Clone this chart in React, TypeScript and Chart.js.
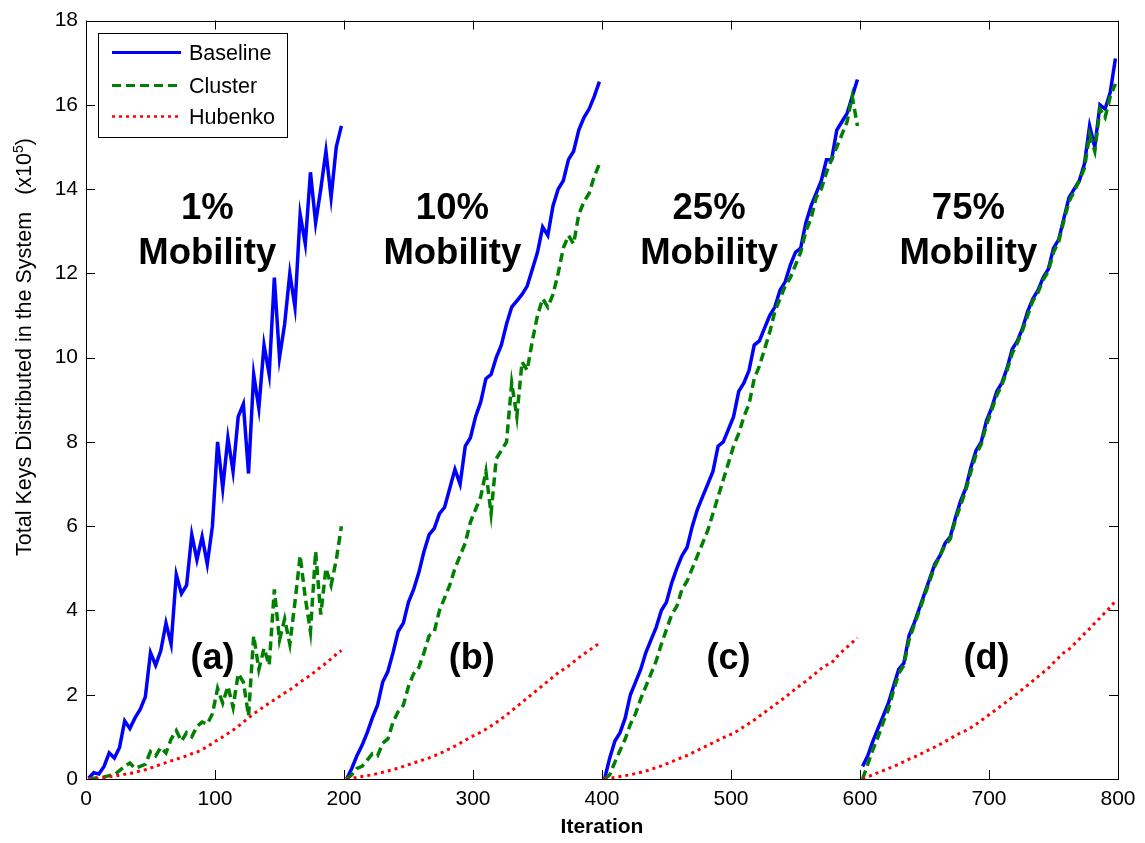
import React, { useEffect, useRef } from "react";
import { Chart, registerables } from "chart.js";

Chart.register(...registerables);

// ---- data ----
const SEGMENT_STARTS = [0, 200, 400, 600];
const ITER_OFFSETS = [2, 6, 10, 14, 18, 22, 26, 30, 34, 38, 42, 46, 50, 54, 58, 62, 66, 70, 74, 78, 82, 86, 90, 94, 98, 102, 106, 110, 114, 118, 122, 126, 130, 134, 138, 142, 146, 150, 154, 158, 162, 166, 170, 174, 178, 182, 186, 190, 194, 198];
const X_TICKS = [0, 100, 200, 300, 400, 500, 600, 700, 800];
const Y_TICKS = [0, 2, 4, 6, 8, 10, 12, 14, 16, 18];
const SERIES_NAMES = ["Baseline", "Cluster", "Hubenko"];
const MOBILITY_LABELS = ["1%", "10%", "25%", "75%"];
const PANEL_LABELS = ["(a)", "(b)", "(c)", "(d)"];

const BASELINE_A = [0.02, 0.15, 0.12, 0.3, 0.62, 0.5, 0.75, 1.38, 1.2, 1.45, 1.65, 1.95, 3.0, 2.7, 3.05, 3.7, 3.2, 4.85, 4.4, 4.6, 5.8, 5.2, 5.75, 5.1, 6.0, 8.0, 6.9, 8.1, 7.3, 8.6, 8.9, 7.25, 9.6, 8.8, 10.3, 9.6, 11.9, 10.0, 10.8, 12.0, 11.2, 13.4, 12.7, 14.4, 13.2, 14.0, 14.9, 13.8, 15.0, 15.5];
const BASELINE_B = [0.0, 0.25, 0.55, 0.8, 1.1, 1.45, 1.75, 2.3, 2.55, 3.0, 3.5, 3.7, 4.2, 4.5, 4.9, 5.4, 5.8, 5.95, 6.3, 6.45, 6.9, 7.35, 7.0, 7.9, 8.1, 8.6, 8.95, 9.5, 9.6, 10.0, 10.3, 10.8, 11.2, 11.35, 11.5, 11.7, 12.1, 12.5, 13.1, 12.9, 13.6, 14.0, 14.2, 14.7, 14.9, 15.4, 15.7, 15.9, 16.2, 16.55];
const BASELINE_C = [0.0, 0.5, 0.9, 1.1, 1.45, 2.0, 2.3, 2.6, 3.0, 3.3, 3.6, 4.0, 4.2, 4.65, 5.0, 5.3, 5.5, 6.0, 6.4, 6.7, 7.0, 7.3, 7.9, 8.0, 8.3, 8.6, 9.2, 9.4, 9.7, 10.3, 10.4, 10.7, 11.0, 11.2, 11.6, 11.8, 12.2, 12.5, 12.6, 13.2, 13.6, 13.9, 14.2, 14.7, 14.7, 15.4, 15.6, 15.8, 16.2, 16.6];
const BASELINE_D = [0.3, 0.55, 0.9, 1.2, 1.5, 1.8, 2.2, 2.6, 2.75, 3.4, 3.7, 4.05, 4.4, 4.75, 5.1, 5.3, 5.6, 5.75, 6.2, 6.6, 6.9, 7.4, 7.8, 8.0, 8.5, 8.8, 9.2, 9.4, 9.75, 10.2, 10.4, 10.7, 11.1, 11.4, 11.6, 11.9, 12.1, 12.6, 12.8, 13.3, 13.8, 14.0, 14.2, 14.6, 15.5, 15.0, 16.0, 15.9, 16.3, 17.1];

const CLUSTER_A = [0.0, 0.02, 0.03, 0.05, 0.08, 0.1, 0.2, 0.3, 0.38, 0.25, 0.3, 0.35, 0.65, 0.55, 0.75, 0.62, 0.95, 1.15, 0.9, 1.1, 1.0, 1.25, 1.35, 1.3, 1.55, 2.15, 1.8, 2.2, 1.7, 2.5, 2.3, 1.5, 3.4, 2.6, 3.1, 2.7, 4.5, 3.3, 3.8, 3.2, 4.2, 5.3, 4.3, 3.5, 5.4, 3.9, 5.0, 4.6, 5.2, 6.0];
const CLUSTER_B = [0.0, 0.1, 0.25, 0.3, 0.45, 0.6, 0.55, 0.85, 0.95, 1.35, 1.6, 1.75, 2.2, 2.5, 2.65, 3.0, 3.4, 3.5, 4.0, 4.3, 4.6, 5.0, 5.3, 5.6, 6.1, 6.4, 6.7, 7.3, 6.3, 7.6, 7.8, 8.0, 9.4, 8.6, 9.9, 9.7, 10.4, 11.0, 11.4, 11.2, 11.5, 12.0, 12.6, 12.9, 12.7, 13.4, 13.7, 13.9, 14.3, 14.6];
const CLUSTER_C = [0.0, 0.1, 0.4, 0.68, 0.95, 1.3, 1.55, 1.9, 2.2, 2.5, 2.8, 3.2, 3.55, 3.9, 4.1, 4.5, 4.7, 5.0, 5.3, 5.6, 5.9, 6.3, 6.7, 7.1, 7.5, 7.9, 8.2, 8.6, 8.9, 9.5, 9.8, 10.2, 10.6, 11.1, 11.4, 11.7, 11.9, 12.2, 12.5, 13.0, 13.3, 13.8, 14.0, 14.4, 14.7, 15.0, 15.3, 15.6, 16.2, 15.5];
const CLUSTER_D = [0.0, 0.35, 0.7, 1.0, 1.35, 1.65, 2.1, 2.5, 2.7, 3.3, 3.65, 4.0, 4.35, 4.7, 5.05, 5.3, 5.55, 5.7, 6.15, 6.5, 6.85, 7.3, 7.7, 7.95, 8.4, 8.75, 9.1, 9.35, 9.7, 10.1, 10.35, 10.65, 11.0, 11.35, 11.55, 11.85, 12.05, 12.5, 12.75, 13.25, 13.7, 13.95, 14.2, 14.5, 15.3, 14.9, 15.9, 15.7, 16.2, 16.5];

const HUBENKO_A = [0.0, 0.01, 0.02, 0.03, 0.05, 0.07, 0.09, 0.11, 0.13, 0.16, 0.19, 0.22, 0.26, 0.3, 0.35, 0.39, 0.43, 0.47, 0.51, 0.55, 0.6, 0.64, 0.7, 0.77, 0.85, 0.93, 1.0, 1.08, 1.16, 1.25, 1.35, 1.45, 1.55, 1.63, 1.72, 1.8, 1.88, 1.96, 2.04, 2.12, 2.2, 2.3, 2.38, 2.46, 2.56, 2.66, 2.75, 2.85, 2.96, 3.05];
const HUBENKO_B = [0.0, 0.02, 0.04, 0.06, 0.08, 0.1, 0.13, 0.16, 0.19, 0.22, 0.26, 0.3, 0.34, 0.38, 0.42, 0.46, 0.5, 0.55, 0.6, 0.66, 0.72, 0.78, 0.85, 0.92, 0.99, 1.05, 1.11, 1.18, 1.26, 1.34, 1.43, 1.52, 1.62, 1.72, 1.82, 1.92, 2.02, 2.12, 2.22, 2.32, 2.42, 2.52, 2.6, 2.68, 2.78, 2.88, 2.97, 3.05, 3.14, 3.22];
const HUBENKO_C = [0.0, 0.02, 0.04, 0.06, 0.08, 0.1, 0.13, 0.16, 0.19, 0.23, 0.27, 0.31, 0.36, 0.41, 0.46, 0.51, 0.56, 0.62, 0.68, 0.74, 0.8, 0.86, 0.92, 0.98, 1.03, 1.09, 1.16, 1.24, 1.32, 1.4, 1.49, 1.58, 1.67, 1.76, 1.85, 1.94, 2.04, 2.14, 2.23, 2.32, 2.42, 2.52, 2.62, 2.7, 2.76, 2.9, 3.02, 3.13, 3.24, 3.35];
const HUBENKO_D = [0.0, 0.05, 0.1, 0.15, 0.2, 0.25, 0.3, 0.35, 0.41, 0.47, 0.52, 0.58, 0.64, 0.7, 0.76, 0.82, 0.89, 0.96, 1.03, 1.1, 1.15, 1.22, 1.3, 1.39, 1.48, 1.57, 1.66, 1.75, 1.84, 1.94, 2.03, 2.13, 2.23, 2.33, 2.43, 2.53, 2.63, 2.76, 2.88, 3.0, 3.08, 3.2, 3.32, 3.45, 3.57, 3.7, 3.82, 3.95, 4.08, 4.22];

// ---- helpers ----
function buildSeries(segments: number[][]) {
  const pts: { x: number; y: number | null }[] = [];
  segments.forEach((vals, s) => {
    vals.forEach((v, i) => pts.push({ x: SEGMENT_STARTS[s] + ITER_OFFSETS[i], y: v }));
    pts.push({ x: SEGMENT_STARTS[s] + 199.5, y: null });
  });
  return pts;
}

const FONT = '"Liberation Sans", Arial, Helvetica, sans-serif';

const STYLES = [
  { color: "#0000ff", dash: [] as number[], width: 3.5 },
  { color: "#008000", dash: [9, 5], width: 3.5 },
  { color: "#ff0000", dash: [3, 4], width: 3 },
];

const overlayPlugin = {
  id: "overlay",
  afterDraw(chart: any) {
    const { ctx, chartArea } = chart;
    const xs = chart.scales.x;
    const ys = chart.scales.y;
    const { left, right, top, bottom } = chartArea;
    ctx.save();

    // box
    ctx.strokeStyle = "#000";
    ctx.lineWidth = 1;
    ctx.setLineDash([]);
    ctx.strokeRect(Math.round(left) + 0.5, Math.round(top) + 0.5, Math.round(right - left), Math.round(bottom - top));

    // inward ticks
    const TL = 9;
    ctx.beginPath();
    X_TICKS.forEach((v) => {
      const px = Math.round(xs.getPixelForValue(v)) + 0.5;
      ctx.moveTo(px, bottom);
      ctx.lineTo(px, bottom - TL);
      ctx.moveTo(px, top);
      ctx.lineTo(px, top + TL);
    });
    Y_TICKS.forEach((v) => {
      const py = Math.round(ys.getPixelForValue(v)) + 0.5;
      ctx.moveTo(left, py);
      ctx.lineTo(left + TL, py);
      ctx.moveTo(right, py);
      ctx.lineTo(right - TL, py);
    });
    ctx.stroke();

    // annotations
    ctx.fillStyle = "#000";
    ctx.textAlign = "center";
    ctx.textBaseline = "alphabetic";
    ctx.font = `bold 36.5px ${FONT}`;
    const mobX = [94, 284, 483, 684];
    const panelX = [98, 299, 498, 698];
    MOBILITY_LABELS.forEach((lab, i) => {
      const px = xs.getPixelForValue(mobX[i]);
      ctx.fillText(lab, px, ys.getPixelForValue(13.3));
      ctx.fillText("Mobility", px, ys.getPixelForValue(12.22));
    });
    ctx.font = `bold 36px ${FONT}`;
    PANEL_LABELS.forEach((lab, i) => {
      ctx.fillText(lab, xs.getPixelForValue(panelX[i]), ys.getPixelForValue(2.62));
    });

    // legend
    const lx = left + 12, ly = top + 12, lw = 189, lh = 104;
    ctx.fillStyle = "#fff";
    ctx.fillRect(lx, ly, lw, lh);
    ctx.strokeStyle = "#000";
    ctx.lineWidth = 1;
    ctx.strokeRect(Math.round(lx) + 0.5, Math.round(ly) + 0.5, lw, lh);
    ctx.font = `21.5px ${FONT}`;
    ctx.textAlign = "left";
    ctx.textBaseline = "middle";
    const rowY = [ly + 20, ly + 53, ly + 84];
    SERIES_NAMES.forEach((name, i) => {
      const st = STYLES[i];
      ctx.strokeStyle = st.color;
      ctx.lineWidth = st.width - 0.5;
      ctx.setLineDash(st.dash);
      ctx.beginPath();
      ctx.moveTo(lx + 14, rowY[i]);
      ctx.lineTo(lx + 83, rowY[i]);
      ctx.stroke();
      ctx.setLineDash([]);
      ctx.fillStyle = "#000";
      ctx.fillText(name, lx + 91, rowY[i] + 1);
    });

    // y title
    const main = "Total Keys Distributed in the System";
    ctx.font = `21.5px ${FONT}`;
    const wMain = ctx.measureText(main).width;
    const wOpen = ctx.measureText("(x10").width;
    const wClose = ctx.measureText(")").width;
    ctx.font = `14px ${FONT}`;
    const wSup = ctx.measureText("5").width;
    const gap = 17;
    const total = wMain + gap + wOpen + wSup + wClose;
    const cy = 347;
    ctx.translate(25, cy + total / 2);
    ctx.rotate(-Math.PI / 2);
    ctx.fillStyle = "#000";
    ctx.font = `21.5px ${FONT}`;
    ctx.fillText(main, 0, 0);
    let pos = wMain + gap;
    ctx.fillText("(x10", pos, 0);
    pos += wOpen;
    ctx.font = `14px ${FONT}`;
    ctx.fillText("5", pos, -6);
    pos += wSup;
    ctx.font = `21.5px ${FONT}`;
    ctx.fillText(")", pos, 0);
    ctx.setTransform(1, 0, 0, 1, 0, 0);

    // x title
    ctx.font = `bold 21px ${FONT}`;
    ctx.textAlign = "center";
    ctx.textBaseline = "middle";
    ctx.fillText("Iteration", (left + right) / 2, 827);

    ctx.restore();
  },
};

export default function App() {
  const canvasRef = useRef<HTMLCanvasElement | null>(null);

  useEffect(() => {
    const canvas = canvasRef.current;
    if (!canvas) return;
    const seriesData = [
      buildSeries([BASELINE_A, BASELINE_B, BASELINE_C, BASELINE_D]),
      buildSeries([CLUSTER_A, CLUSTER_B, CLUSTER_C, CLUSTER_D]),
      buildSeries([HUBENKO_A, HUBENKO_B, HUBENKO_C, HUBENKO_D]),
    ];
    const chart = new Chart(canvas, {
      type: "line",
      data: {
        datasets: SERIES_NAMES.map((name, i) => ({
          label: name,
          data: seriesData[i],
          borderColor: STYLES[i].color,
          backgroundColor: STYLES[i].color,
          borderWidth: STYLES[i].width,
          borderDash: STYLES[i].dash,
          borderCapStyle: "butt",
          borderJoinStyle: "miter",
          pointRadius: 0,
          pointHoverRadius: 0,
          tension: 0,
          fill: false,
          spanGaps: false,
          order: 3 - i,
        })),
      },
      options: {
        responsive: false,
        animation: false,
        devicePixelRatio: 1,
        layout: { padding: { left: 0, top: 15, right: 27, bottom: 0 } },
        plugins: { legend: { display: false }, tooltip: { enabled: false } },
        events: [],
        scales: {
          x: {
            type: "linear",
            min: 0,
            max: 800,
            afterFit: (s: any) => { s.height = 64; },
            afterBuildTicks: (s: any) => { s.ticks = X_TICKS.map((v) => ({ value: v })); },
            grid: { display: false, drawTicks: false },
            border: { display: false },
            ticks: { color: "#000", font: { family: FONT, size: 21 }, padding: 8, maxRotation: 0, autoSkip: false },
          },
          y: {
            type: "linear",
            min: 0,
            max: 18,
            afterFit: (s: any) => { s.width = 86; },
            afterBuildTicks: (s: any) => { s.ticks = Y_TICKS.map((v) => ({ value: v })); },
            grid: { display: false, drawTicks: false },
            border: { display: false },
            ticks: { color: "#000", font: { family: FONT, size: 21 }, padding: 8 },
          },
        },
      },
      plugins: [overlayPlugin],
    } as any);
    return () => chart.destroy();
  }, []);

  return (
    <div style={{ position: "fixed", left: 0, top: 0, width: 1145, height: 843, background: "#fff" }}>
      <canvas ref={canvasRef} width={1145} height={843} style={{ width: 1145, height: 843, display: "block" }} />
    </div>
  );
}
